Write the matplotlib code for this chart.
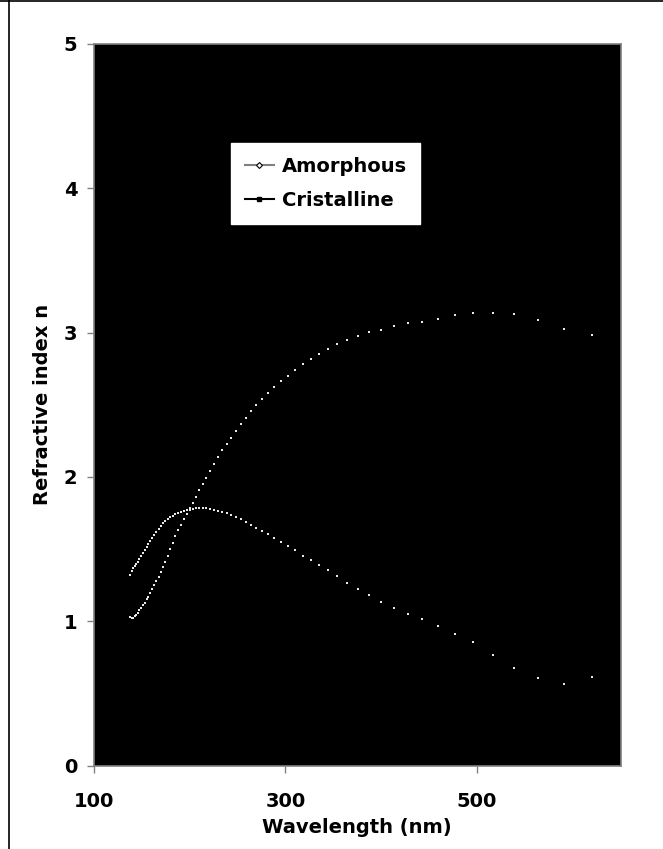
import matplotlib
matplotlib.use('Agg')
import matplotlib.pyplot as plt
from matplotlib.lines import Line2D

# wavelength grid (nm), sampled every 0.1 eV from 2.0 eV to 9.0 eV
wavelength = [620.0, 590.5, 563.6, 539.1, 516.7, 496.0, 476.9, 459.3, 442.9, 427.6,
              413.3, 400.0, 387.5, 375.8, 364.7, 354.3, 344.4, 335.1, 326.3, 317.9,
              310.0, 302.4, 295.2, 288.4, 281.8, 275.6, 269.6, 263.8, 258.3, 253.1,
              248.0, 243.1, 238.5, 234.0, 229.6, 225.5, 221.4, 217.5, 213.8, 210.2,
              206.7, 203.3, 200.0, 196.8, 193.8, 190.8, 187.9, 185.1, 182.4, 179.7,
              177.1, 174.6, 172.2, 169.9, 167.6, 165.3, 163.2, 161.0, 159.0, 157.0,
              155.0, 153.1, 151.2, 149.4, 147.6, 145.9, 144.2, 142.5, 140.9, 139.3,
              137.8]

n_cristalline = [2.982, 3.024, 3.088, 3.128, 3.134, 3.137, 3.123, 3.093, 3.076, 3.065,
                 3.044, 3.021, 3.003, 2.979, 2.947, 2.920, 2.887, 2.850, 2.818, 2.785,
                 2.744, 2.702, 2.667, 2.620, 2.580, 2.540, 2.500, 2.457, 2.410, 2.365,
                 2.320, 2.270, 2.230, 2.190, 2.140, 2.090, 2.040, 1.995, 1.950, 1.910,
                 1.860, 1.820, 1.785, 1.745, 1.710, 1.667, 1.630, 1.590, 1.543, 1.500,
                 1.453, 1.410, 1.374, 1.340, 1.310, 1.280, 1.254, 1.226, 1.196, 1.170,
                 1.152, 1.130, 1.110, 1.090, 1.076, 1.060, 1.046, 1.037, 1.020, 1.020,
                 1.030]

n_amorphous = [0.614, 0.563, 0.606, 0.674, 0.766, 0.854, 0.914, 0.967, 1.014, 1.053,
               1.094, 1.136, 1.180, 1.226, 1.268, 1.312, 1.356, 1.388, 1.423, 1.455,
               1.492, 1.522, 1.550, 1.577, 1.603, 1.624, 1.648, 1.666, 1.685, 1.709,
               1.722, 1.738, 1.750, 1.756, 1.766, 1.773, 1.781, 1.785, 1.785, 1.785,
               1.785, 1.780, 1.773, 1.769, 1.762, 1.757, 1.750, 1.743, 1.733, 1.723,
               1.712, 1.698, 1.681, 1.662, 1.639, 1.621, 1.597, 1.575, 1.555, 1.533,
               1.512, 1.491, 1.474, 1.452, 1.430, 1.413, 1.395, 1.380, 1.366, 1.350,
               1.323]

x_ticks = [100, 300, 500]
y_ticks = [0, 1, 2, 3, 4, 5]

plt.rcParams['font.family'] = ['DejaVu Sans']

fig = plt.figure(figsize=(6.63, 8.49), dpi=100)
ax = fig.add_axes([0.1416, 0.0982, 0.7946, 0.8500])
ax.set_facecolor('black')

### puntos ###############################################################
ax.plot(wavelength, n_amorphous, linestyle='none', marker='s', markersize=1.5,
        markeredgewidth=0, color='#e8e8e8')
ax.plot(wavelength, n_cristalline, linestyle='none', marker='s', markersize=1.5,
        markeredgewidth=0, color='#e8e8e8')

ax.set_xlim(100, 650)
ax.set_ylim(0, 5)
ax.set_xticks(x_ticks)
ax.set_yticks(y_ticks)

for sp in ax.spines.values():
    sp.set_color('#808080')
    sp.set_linewidth(1.2)

ax.tick_params(axis='both', direction='out', length=5, width=1, color='#808080',
               labelsize=14)
ax.tick_params(axis='x', pad=14)
ax.tick_params(axis='y', pad=7)
for lab in ax.get_xticklabels() + ax.get_yticklabels():
    lab.set_fontweight('bold')

ax.set_xlabel('Wavelength (nm)', fontsize=14, fontweight='bold')
ax.set_ylabel('Refractive index n', fontsize=14, fontweight='bold')
ax.xaxis.set_label_coords(0.5, -0.073)
ax.yaxis.set_label_coords(-0.080, 0.5)

### leyenda ##############################################################
handles = [
    Line2D([], [], color='#808080', lw=1.5, marker='D', markersize=3,
           markerfacecolor='white', markeredgecolor='black', markeredgewidth=0.8),
    Line2D([], [], color='black', lw=1.5, marker='s', markersize=3,
           markerfacecolor='black', markeredgecolor='black'),
]
leg = ax.legend(handles, ['Amorphous', 'Cristalline'], loc='upper left',
                bbox_to_anchor=(0.2603, 0.8628), borderaxespad=0, frameon=True,
                fancybox=False, facecolor='white', edgecolor='white', framealpha=1,
                handlelength=1.5, handletextpad=0.4, labelspacing=0.8,
                borderpad=0.7, prop={'size': 14, 'weight': 'bold'})

### marco de la figura ###################################################
fig.add_artist(Line2D([0, 1], [0.999, 0.999], transform=fig.transFigure,
                      color='black', lw=1.2))
fig.add_artist(Line2D([0.0135, 0.0135], [0, 1], transform=fig.transFigure,
                      color='black', lw=1.2))

fig.savefig('out.png', dpi=100)
